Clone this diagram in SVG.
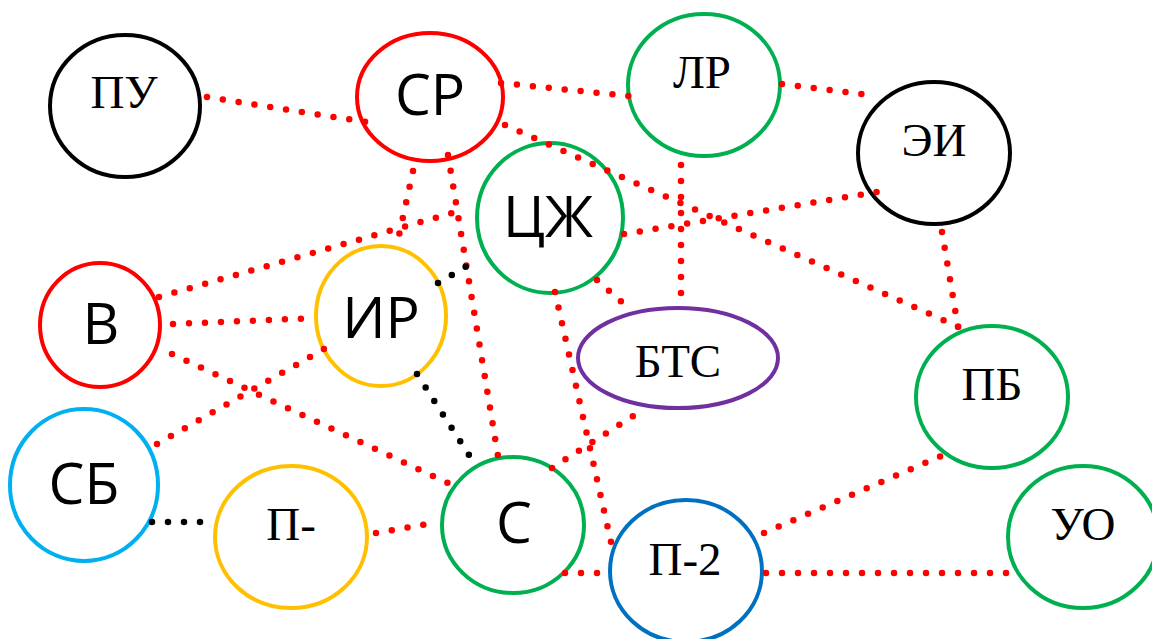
<svg xmlns="http://www.w3.org/2000/svg" width="1152" height="639" viewBox="0 0 1152 639">
<style>
.n{fill:none;stroke-width:4}
.serif{font-family:"Liberation Serif","Times New Roman",serif;font-size:47px;fill:#000;text-anchor:middle}
.sans{font-family:"Open Sans","Liberation Sans",sans-serif;font-size:57px;fill:#000;text-anchor:middle}
.r{stroke:#FF0000;stroke-width:6.5;stroke-linecap:round;stroke-dasharray:0 16;fill:none}
.k{stroke:#000;stroke-width:6.5;stroke-linecap:round;stroke-dasharray:0 16;fill:none}
</style>
<rect width="1152" height="639" fill="#fff"/>
<g id="node-PU"><ellipse class="n" cx="125" cy="106" rx="75" ry="71" stroke="#000"/><text class="serif" x="124" y="108">ПУ</text></g>
<g id="node-SR"><ellipse class="n" cx="430" cy="97" rx="73" ry="64" stroke="#FF0000"/><text class="sans" x="430" y="115">СР</text></g>
<g id="node-LR"><ellipse class="n" cx="704" cy="85" rx="76" ry="71" stroke="#00B050"/><text class="serif" x="702" y="88">ЛР</text></g>
<g id="node-EI"><ellipse class="n" cx="934" cy="153" rx="76" ry="71" stroke="#000"/><text class="serif" x="934" y="156">ЭИ</text></g>
<g id="node-CZh"><ellipse class="n" cx="550" cy="218" rx="73" ry="75" stroke="#00B050"/><text class="sans" x="548" y="237">ЦЖ</text></g>
<g id="node-V"><ellipse class="n" cx="100" cy="325" rx="60" ry="62" stroke="#FF0000"/><text class="sans" x="101" y="344">В</text></g>
<g id="node-IR"><ellipse class="n" cx="381" cy="316" rx="65" ry="70" stroke="#FFC000"/><text class="sans" x="381" y="338">ИР</text></g>
<g id="node-BTS"><ellipse class="n" cx="678" cy="358" rx="100" ry="50" stroke="#7030A0"/><text class="serif" x="678" y="377">БТС</text></g>
<g id="node-PB"><ellipse class="n" cx="992" cy="397" rx="76" ry="71" stroke="#00B050"/><text class="serif" x="992" y="400">ПБ</text></g>
<g id="node-SB"><ellipse class="n" cx="84" cy="485" rx="74" ry="76" stroke="#00B0F0"/><text class="sans" x="84" y="504">СБ</text></g>
<g id="node-P"><ellipse class="n" cx="291" cy="537" rx="76" ry="71" stroke="#FFC000"/><text class="serif" x="291" y="540">П-</text></g>
<g id="node-S"><ellipse class="n" cx="513" cy="525" rx="71" ry="68" stroke="#00B050"/><text class="sans" x="514" y="543">С</text></g>
<g id="node-P2"><ellipse class="n" cx="686" cy="571" rx="76" ry="71" stroke="#0070C0"/><text class="serif" x="685" y="575">П-2</text></g>
<g id="node-UO"><ellipse class="n" cx="1083" cy="537" rx="75" ry="71" stroke="#00B050"/><text class="serif" x="1083" y="540">УО</text></g>
<g id="connectors">
<line class="r" x1="207" y1="97" x2="366" y2="122"/>
<line class="r" x1="501" y1="83" x2="629" y2="96"/>
<line class="r" x1="782" y1="84" x2="877" y2="96"/>
<line class="r" x1="505" y1="125" x2="959" y2="327"/>
<line class="r" x1="624" y1="234" x2="877" y2="192"/>
<line class="r" x1="681" y1="165" x2="681" y2="309"/>
<line class="r" x1="942" y1="232" x2="958" y2="327"/>
<line class="r" x1="413" y1="171" x2="396" y2="249"/>
<line class="r" x1="448" y1="155" x2="498" y2="456"/>
<line class="r" x1="159" y1="297" x2="466" y2="209"/>
<line class="r" x1="173" y1="324" x2="316" y2="318"/>
<line class="r" x1="172" y1="354" x2="448" y2="483"/>
<line class="r" x1="157" y1="444" x2="324" y2="349"/>
<line class="r" x1="376" y1="533" x2="439" y2="522"/>
<line class="r" x1="552" y1="468" x2="633" y2="416"/>
<line class="r" x1="555" y1="292" x2="611" y2="542"/>
<line class="r" x1="597" y1="280" x2="625" y2="305"/>
<line class="r" x1="565" y1="573" x2="610" y2="573"/>
<line class="r" x1="766" y1="573" x2="1022" y2="573"/>
<line class="r" x1="764" y1="533" x2="941" y2="456"/>
<line class="k" x1="438" y1="283" x2="479" y2="259"/>
<line class="k" x1="417" y1="374" x2="469" y2="455"/>
<line class="k" x1="152" y1="522" x2="216" y2="522"/>
</g>
</svg>
